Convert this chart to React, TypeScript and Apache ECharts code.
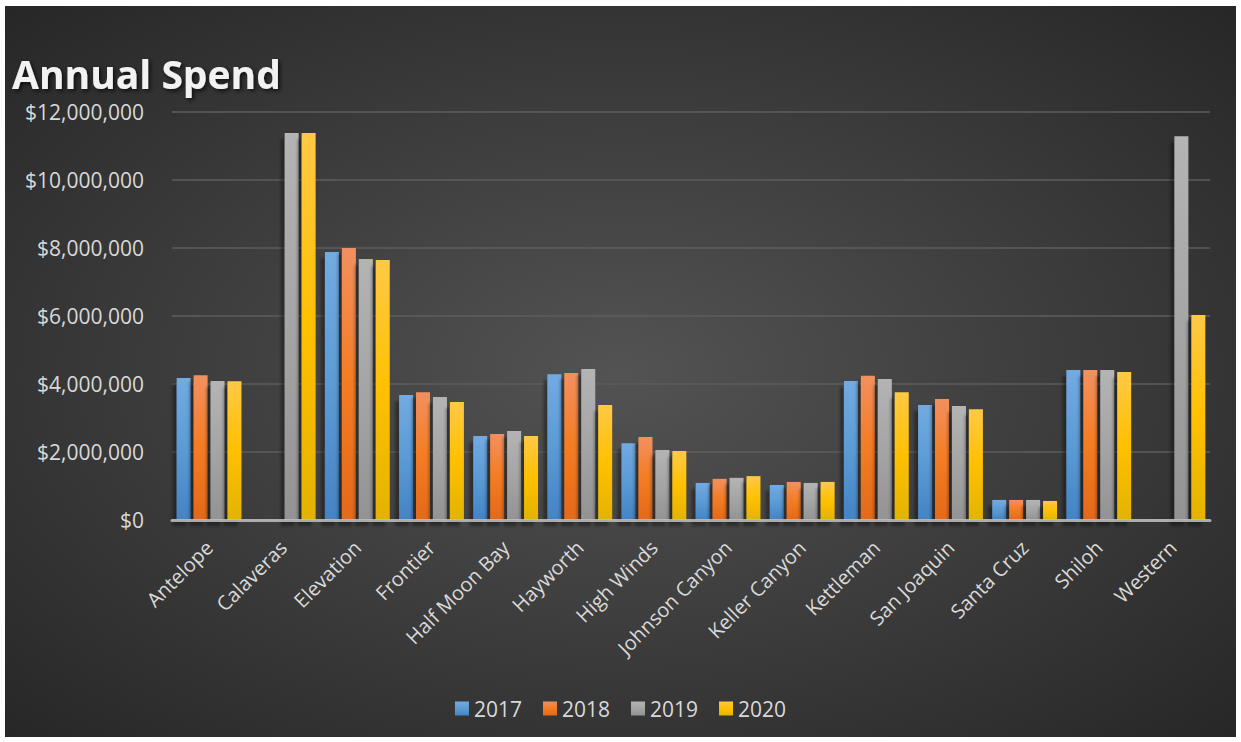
import React, { useEffect, useRef } from "react";
import * as echarts from "echarts";

const categories = [
  "Antelope", "Calaveras", "Elevation", "Frontier", "Half Moon Bay", "Hayworth", "High Winds",
  "Johnson Canyon", "Keller Canyon", "Kettleman", "San Joaquin", "Santa Cruz", "Shiloh", "Western",
];
const years = ["2017", "2018", "2019", "2020"];
const spend2017 = [4180000, 0, 7880000, 3680000, 2470000, 4290000, 2260000, 1090000, 1030000, 4090000, 3380000, 590000, 4410000, 0];
const spend2018 = [4260000, 0, 8000000, 3760000, 2530000, 4320000, 2440000, 1210000, 1120000, 4240000, 3560000, 590000, 4410000, 0];
const spend2019 = [4090000, 11380000, 7680000, 3620000, 2620000, 4440000, 2060000, 1240000, 1090000, 4150000, 3350000, 590000, 4410000, 11290000];
const spend2020 = [4080000, 11380000, 7650000, 3470000, 2470000, 3380000, 2030000, 1290000, 1120000, 3760000, 3260000, 560000, 4350000, 6030000];
const yTicks = { min: 0, max: 12000000, interval: 2000000 };

const seriesValues = [spend2017, spend2018, spend2019, spend2020];
const gradients = [
  ["#73aae2", "#5b9bd5", "#4483c4"],
  ["#f39060", "#f47c22", "#e3691a"],
  ["#b4b4b4", "#a5a5a5", "#939393"],
  ["#ffc946", "#ffc000", "#e3b300"],
];

export default function App() {
  const ref = useRef<HTMLDivElement>(null);
  useEffect(() => {
    document.body.style.margin = "0";
    const chart = echarts.init(ref.current!, undefined, { renderer: "svg" });
    const font = "'Open Sans', 'Liberation Sans', sans-serif";
    chart.setOption({
      animation: false,
      textStyle: { fontFamily: font },
      graphic: [
        {
          type: "rect",
          z: -100,
          silent: true,
          shape: { x: 5, y: 6, width: 1231, height: 731 },
          style: {
            fill: new echarts.graphic.RadialGradient(0.5, 0.5, 0.72, [
              { offset: 0, color: "#535353" },
              { offset: 1, color: "#262626" },
            ]),
          },
        },
      ],
      title: {
        text: "Annual Spend",
        left: 12,
        top: 55,
        padding: 0,
        textStyle: {
          fontFamily: font,
          fontSize: 39,
          lineHeight: 36,
          fontWeight: "bold",
          color: "#f2f2f2",
          textShadowColor: "rgba(0,0,0,0.7)",
          textShadowBlur: 4,
          textShadowOffsetX: 2,
          textShadowOffsetY: 2,
        },
      },
      legend: {
        data: years,
        left: "center",
        top: 693,
        icon: "rect",
        itemWidth: 14,
        itemHeight: 14,
        itemGap: 21,
        textStyle: { color: "#d9d9d9", fontSize: 21, fontFamily: font },
      },
      grid: { left: 172, right: 31, top: 112, bottom: 222, containLabel: false },
      xAxis: {
        type: "category",
        data: categories,
        axisTick: { show: false },
        axisLine: { lineStyle: { color: "#bfbfbf", width: 3, opacity: 0.85 } },
        axisLabel: { rotate: 45, interval: 0, color: "#d9d9d9", fontSize: 20, margin: 24, fontFamily: font },
        z: 5,
      },
      yAxis: {
        type: "value",
        min: yTicks.min,
        max: yTicks.max,
        interval: yTicks.interval,
        axisLine: { show: false },
        axisTick: { show: false },
        splitLine: { lineStyle: { color: "#5c5c5c", width: 1.5 } },
        axisLabel: {
          color: "#d9d9d9",
          fontSize: 21,
          margin: 28,
          fontFamily: font,
          formatter: (v: number) => "$" + v.toLocaleString("en-US"),
        },
      },
      series: years.map((y, i) => ({
        name: y,
        type: "bar",
        data: seriesValues[i],
        barWidth: 14,
        barGap: "21%",
        itemStyle: {
          color: new echarts.graphic.LinearGradient(0, 0, 0, 1, [
            { offset: 0, color: gradients[i][0] },
            { offset: 0.5, color: gradients[i][1] },
            { offset: 1, color: gradients[i][2] },
          ]),
          shadowColor: "rgba(0,0,0,0.35)",
          shadowBlur: 3,
          shadowOffsetX: -4,
          shadowOffsetY: 6,
        },
      })),
    });
    return () => chart.dispose();
  }, []);
  return <div ref={ref} style={{ width: 1241, height: 742, background: "#ffffff" }} />;
}
